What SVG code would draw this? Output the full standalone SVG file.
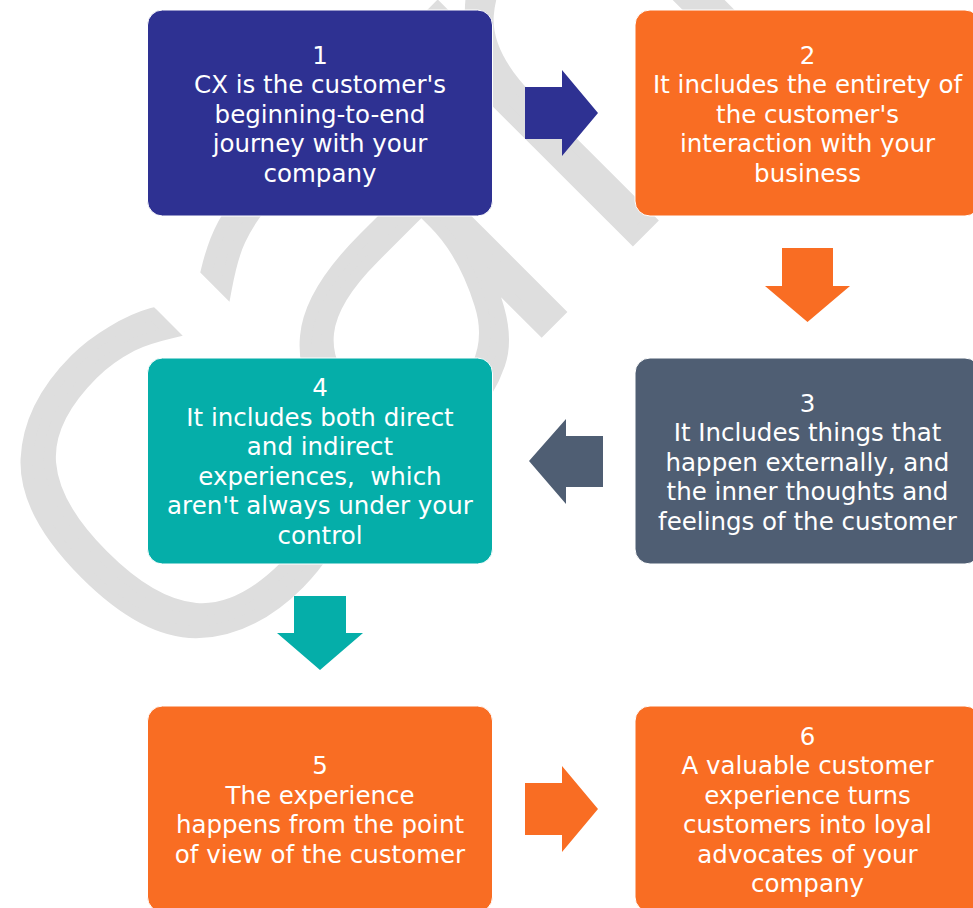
<svg xmlns="http://www.w3.org/2000/svg" width="973" height="908" viewBox="0 0 973 908">
<style>
.box{stroke:#ffffff;stroke-width:1}
.t{font-family:"DejaVu Sans","Liberation Sans",sans-serif;font-size:24.5px;fill:#ffffff;text-anchor:middle}
.wm{font-family:"DejaVu Sans","Liberation Sans",sans-serif;font-size:550px;font-weight:200;fill:#dedede;stroke:#dedede;stroke-width:12;letter-spacing:-20px}
</style>
<rect width="973" height="908" fill="#ffffff"/>
<g id="watermark">
<text class="wm" x="165" y="706" transform="rotate(-45 165 706)">can</text>
</g>
<g id="connectors">
<polygon points="525,87 562,87 562,70 598,113 562,156 562,139 525,139" fill="#2e3192"/>
<polygon points="782,248 833,248 833,286 850,286 807.5,322 765,286 782,286" fill="#f96d23"/>
<polygon points="603,436 566,436 566,419 529,461 566,504 566,487 603,487" fill="#4f5e73"/>
<polygon points="294,596 346,596 346,633 363,633 320,670 277,633 294,633" fill="#05aea9"/>
<polygon points="525,783 562,783 562,766 598,809 562,852 562,835 525,835" fill="#f96d23"/>
</g>
<g id="node1">
<rect class="box" x="147.5" y="10" width="345" height="206" rx="15" fill="#2e3192"/>
<text class="t"><tspan x="320" y="63.5">1</tspan><tspan x="320" y="93">CX is the customer's</tspan><tspan x="320" y="122.5">beginning-to-end</tspan><tspan x="320" y="152">journey with your</tspan><tspan x="320" y="181.5">company</tspan></text>
</g>
<g id="node2">
<rect class="box" x="635" y="10" width="345" height="206" rx="15" fill="#f96d23"/>
<text class="t"><tspan x="807.5" y="63.5">2</tspan><tspan x="807.5" y="93">It includes the entirety of</tspan><tspan x="807.5" y="122.5">the customer's</tspan><tspan x="807.5" y="152">interaction with your</tspan><tspan x="807.5" y="181.5">business</tspan></text>
</g>
<g id="node3">
<rect class="box" x="635" y="358" width="345" height="206" rx="15" fill="#4f5e73"/>
<text class="t"><tspan x="807.5" y="411.5">3</tspan><tspan x="807.5" y="441">It Includes things that</tspan><tspan x="807.5" y="470.5">happen externally, and</tspan><tspan x="807.5" y="500">the inner thoughts and</tspan><tspan x="807.5" y="529.5">feelings of the customer</tspan></text>
</g>
<g id="node4">
<rect class="box" x="147.5" y="358" width="345" height="206" rx="15" fill="#05aea9"/>
<text class="t" xml:space="preserve"><tspan x="320" y="396">4</tspan><tspan x="320" y="425.5">It includes both direct</tspan><tspan x="320" y="455">and indirect</tspan><tspan x="320" y="484.5">experiences,  which</tspan><tspan x="320" y="514">aren't always under your</tspan><tspan x="320" y="543.5">control</tspan></text>
</g>
<g id="node5">
<rect class="box" x="147.5" y="706" width="345" height="206" rx="15" fill="#f96d23"/>
<text class="t"><tspan x="320" y="774">5</tspan><tspan x="320" y="803.5">The experience</tspan><tspan x="320" y="833">happens from the point</tspan><tspan x="320" y="862.5">of view of the customer</tspan></text>
</g>
<g id="node6">
<rect class="box" x="635" y="706" width="345" height="206" rx="15" fill="#f96d23"/>
<text class="t"><tspan x="807.5" y="744.5">6</tspan><tspan x="807.5" y="774">A valuable customer</tspan><tspan x="807.5" y="803.5">experience turns</tspan><tspan x="807.5" y="833">customers into loyal</tspan><tspan x="807.5" y="862.5">advocates of your</tspan><tspan x="807.5" y="892">company</tspan></text>
</g>
</svg>
